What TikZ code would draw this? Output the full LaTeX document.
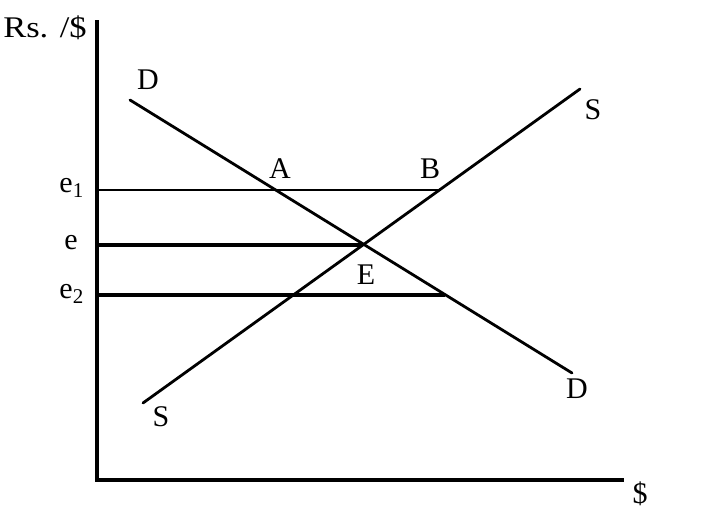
\documentclass[tikz,border=0pt]{standalone}
\usepackage{fontspec}
\setmainfont{Liberation Serif}
\begin{document}
\begin{tikzpicture}[x=1pt,y=-1pt,
  lbl/.style={font=\fontsize{30}{32}\selectfont, inner sep=0pt, anchor=center},
  axis/.style={line width=3.2pt, line cap=rect},
  curve/.style={line width=2.8pt, line cap=round}]
\useasboundingbox (0,0) rectangle (719,511);
% axes
\coordinate (Ytop) at (97,22);
\coordinate (O) at (97,480);
\coordinate (Xend) at (622,480);
\draw[axis] (Ytop) -- (O) -- (Xend);
% demand and supply
\coordinate (D1) at (130,100);
\coordinate (D2) at (572,373);
\coordinate (S1) at (143,403);
\coordinate (S2) at (580,89);
\draw[curve] (D1) -- (D2);
\draw[curve] (S1) -- (S2);
% price levels
\coordinate (e1a) at (97,190);
\coordinate (Bp) at (438,190);
\coordinate (ea) at (97,245);
\coordinate (Ep) at (362,245);
\coordinate (e2a) at (97,295);
\coordinate (e2b) at (445,295);
\draw[line width=2.2pt] (e1a) -- (Bp);
\draw[line width=3.2pt] (ea) -- (Ep);
\draw[line width=4.8pt] (e2a) -- (e2b);
% labels
\node[lbl, xscale=1.15] (ylab) at (45,28) {Rs. /\$};
\node[lbl] (xlab) at (640,494) {\$};
\node[lbl] (Dtop) at (148,80) {D};
\node[lbl] (Dbot) at (577,389) {D};
\node[lbl] (Stop) at (593,110) {S};
\node[lbl] (Sbot) at (161,417) {S};
\node[lbl] (A) at (280,169) {A};
\node[lbl] (B) at (430,169) {B};
\node[lbl] (E) at (366,275) {E};
\node[lbl, anchor=east] (le1) at (84,188) {e\textsubscript{1}};
\node[lbl, anchor=east] (le) at (78,243) {e};
\node[lbl, anchor=east] (le2) at (84,294) {e\textsubscript{2}};
\end{tikzpicture}
\end{document}
